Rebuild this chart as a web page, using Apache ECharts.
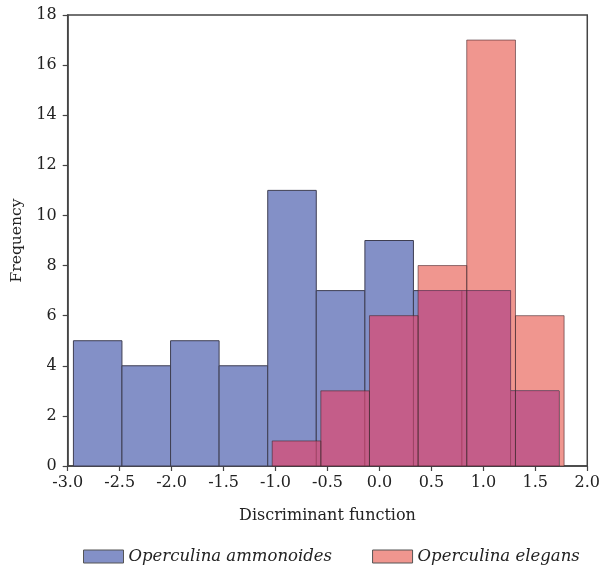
<!DOCTYPE html>
<html>
<head>
<meta charset="utf-8">
<script src="https://cdn.jsdelivr.net/npm/echarts@6/dist/echarts.min.js"></script>
<style>html,body{margin:0;padding:0;background:#fff;}#c{width:603px;height:565px;}</style>
</head>
<body>
<div id="c"></div>
<script>
// Data
const ammonoidesEdges = [-2.945, -2.478, -2.010, -1.543, -1.075, -0.608, -0.140, 0.327, 0.794, 1.262, 1.729];
const ammonoidesCounts = [5, 4, 5, 4, 11, 7, 9, 7, 7, 3];
const elegansEdges = [-1.032, -0.564, -0.096, 0.372, 0.840, 1.309, 1.777];
const elegansCounts = [1, 3, 6, 8, 17, 6];
const xTicks = [-3.0, -2.5, -2.0, -1.5, -1.0, -0.5, 0.0, 0.5, 1.0, 1.5, 2.0];
const yTicks = [0, 2, 4, 6, 8, 10, 12, 14, 16, 18];

const FONT = 'DejaVu Serif';
const BLUE = '#8390c7';
const PINK = '#f0968f';

function bins(edges, counts) {
  return counts.map((c, i) => [edges[i], edges[i + 1], c]);
}
const blueBins = bins(ammonoidesEdges, ammonoidesCounts);
const pinkBins = bins(elegansEdges, elegansCounts);
const overlapBins = [];
blueBins.forEach(b => {
  pinkBins.forEach(p => {
    const l = Math.max(b[0], p[0]), r = Math.min(b[1], p[1]);
    if (r > l) overlapBins.push([l, r, Math.min(b[2], p[2])]);
  });
});

function rectRender(style) {
  return function (params, api) {
    const p0 = api.coord([api.value(0), api.value(2)]);
    const p1 = api.coord([api.value(1), 0]);
    return {
      type: 'rect',
      shape: { x: p0[0], y: p0[1], width: p1[0] - p0[0], height: p1[1] - p0[1] },
      style: style
    };
  };
}

const chart = echarts.init(document.getElementById('c'), null, { renderer: 'canvas' });
chart.setOption({
  animation: false,
  grid: { left: 67.7, right: 13, top: 15, bottom: 99, show: true, borderColor: '#444', borderWidth: 1.5, containLabel: false },
  xAxis: {
    type: 'value', min: -3, max: 2, interval: 0.5,
    name: 'Discriminant function', nameLocation: 'middle', nameGap: 42,
    nameTextStyle: { fontFamily: FONT, fontSize: 16, color: '#222' },
    axisLine: { show: true, onZero: false, lineStyle: { color: '#444', width: 1.5 } },
    axisTick: { show: true, length: 5, lineStyle: { color: '#444', width: 1.2 } },
    axisLabel: { fontFamily: FONT, fontSize: 16, color: '#222', margin: 9,
      formatter: v => { const t = xTicks.find(x => Math.abs(x - v) < 1e-9); return t === undefined ? '' : t.toFixed(1); } },
    splitLine: { show: false }
  },
  yAxis: {
    type: 'value', min: 0, max: 18, interval: 2,
    name: 'Frequency', nameLocation: 'middle', nameGap: 43, nameRotate: 90,
    nameTextStyle: { fontFamily: FONT, fontSize: 15.5, color: '#222' },
    axisLine: { show: true, onZero: false, lineStyle: { color: '#444', width: 1.5 } },
    axisTick: { show: true, length: 5, lineStyle: { color: '#444', width: 1.2 } },
    axisLabel: { fontFamily: FONT, fontSize: 16, color: '#222', margin: 11,
      formatter: v => yTicks.includes(v) ? String(v) : '' },
    splitLine: { show: false }
  },
  legend: {
    left: 78, top: 543, itemWidth: 40, itemHeight: 13, itemGap: 40,
    data: [
      { name: 'Operculina ammonoides', icon: 'rect', itemStyle: { color: BLUE, borderColor: '#555', borderWidth: 1 } },
      { name: 'Operculina elegans', icon: 'rect', itemStyle: { color: PINK, borderColor: '#555', borderWidth: 1 } }
    ],
    textStyle: { fontFamily: FONT, fontStyle: 'italic', fontSize: 16.5, color: '#222' }
  },
  series: [
    {
      name: 'Operculina elegans', type: 'custom', z: 1,
      itemStyle: { color: PINK },
      encode: { x: [0, 1], y: 2 },
      data: pinkBins,
      renderItem: rectRender({ fill: PINK, stroke: null })
    },
    {
      name: 'Operculina ammonoides', type: 'custom', z: 2,
      itemStyle: { color: BLUE },
      encode: { x: [0, 1], y: 2 },
      data: blueBins,
      renderItem: rectRender({ fill: BLUE, stroke: '#3e3e52', lineWidth: 1 })
    },
    {
      name: 'overlap', type: 'custom', z: 3,
      encode: { x: [0, 1], y: 2 },
      data: overlapBins,
      renderItem: rectRender({ fill: 'rgba(222,74,114,0.72)', stroke: null })
    },
    {
      name: 'elegans-outline', type: 'custom', z: 4,
      encode: { x: [0, 1], y: 2 },
      data: pinkBins,
      renderItem: rectRender({ fill: null, stroke: 'rgba(70,40,45,0.6)', lineWidth: 1 })
    }
  ]
});
</script>
</body>
</html>
